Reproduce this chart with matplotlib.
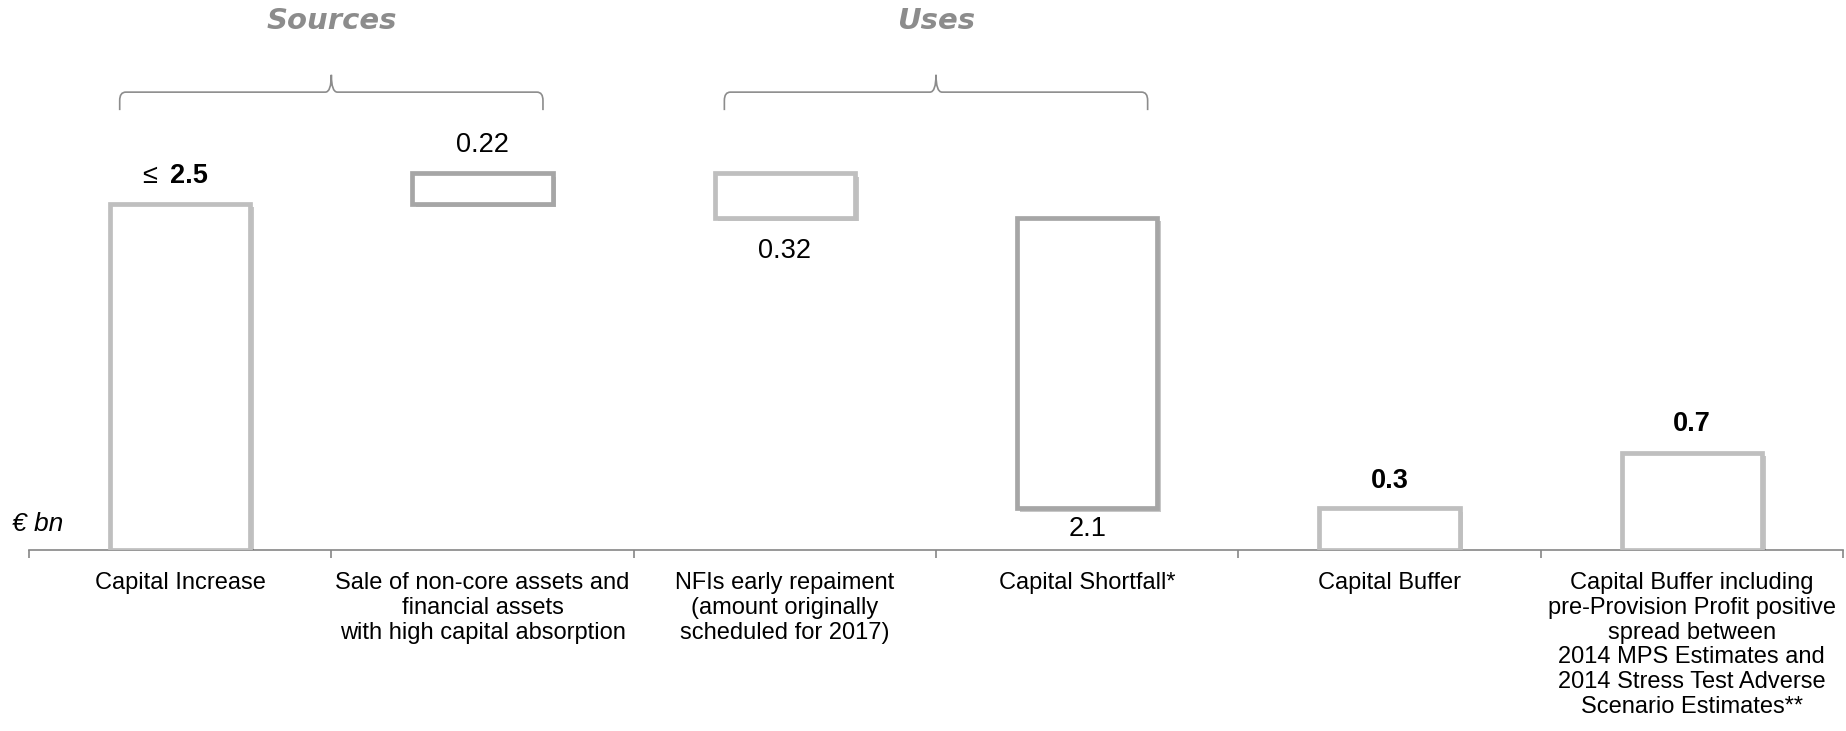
import numpy as np
import matplotlib
matplotlib.use("Agg")
import matplotlib.pyplot as plt
import matplotlib.patheffects as pe
from matplotlib.path import Path
from matplotlib.patches import PathPatch

# ---------------------------------------------------------------- data --- #
categories = [
    "Capital Increase",
    "Sale of non-core assets and\nfinancial assets\nwith high capital absorption",
    "NFIs early repaiment\n(amount originally\nscheduled for 2017)",
    "Capital Shortfall*",
    "Capital Buffer",
    "Capital Buffer including\npre-Provision Profit positive\nspread between\n"
    "2014 MPS Estimates and\n2014 Stress Test Adverse\nScenario Estimates**",
]
values = [2.5, 0.22, -0.32, -2.1, 0.3, 0.7]
kinds = ["step", "step", "step", "step", "total", "total"]
value_labels = ["2.5", "0.22", "0.32", "2.1", "0.3", "0.7"]
bold_labels = [True, False, False, False, True, True]
groups = ["Sources", "Uses"]
group_spans = [(0, 1), (2, 3)]

# --------------------------------------------------------------- style --- #
LIGHT = "#bfbfbf"
DARK = "#a6a6a6"
edge_colors = [LIGHT, DARK, LIGHT, DARK, LIGHT, LIGHT]
label_dy = [20, 20, -24, -15, 20, 21]   # points, from top/bottom of the box
FONT = ["Liberation Sans", "DejaVu Sans"]

plt.rcParams["font.family"] = FONT

fig = plt.figure(figsize=(18.46, 7.31), dpi=100)
ax = fig.add_axes([29 / 1846, 181 / 731, 1814 / 1846, 550 / 731])
ax.set_xlim(-0.5, len(categories) - 0.5)
ax.set_ylim(0, 3.97)

# waterfall bottoms / heights
bottoms = []
heights = []
running = 0.0
for v, k in zip(values, kinds):
    if k == "total":
        bottoms.append(0.0)
        heights.append(v)
    else:
        bottoms.append(min(running, running + v))
        heights.append(abs(v))
        running += v

x = np.arange(len(categories))
bars = ax.bar(x, heights, bottom=bottoms, width=0.465, color="white",
              edgecolor=edge_colors, linewidth=3.4, zorder=3)
for b in bars:
    b.set_path_effects([pe.SimplePatchShadow(offset=(2.5, -2.5), shadow_rgbFace="#000000", alpha=0.22),
                        pe.Normal()])

# value labels
for i, b in enumerate(bars):
    up = values[i] > 0 or kinds[i] == "total"
    y = bottoms[i] + heights[i] if up else bottoms[i]
    weight = "bold" if bold_labels[i] else "normal"
    if i == 0:
        ax.annotate(value_labels[i], (x[i], y), xytext=(-7, label_dy[i]), textcoords="offset points",
                    ha="left", va="center", fontsize=19.5, fontweight=weight)
        ax.annotate("\u2264", (x[i], y), xytext=(-17, label_dy[i]), textcoords="offset points",
                    ha="right", va="center", fontsize=19.5)
    else:
        ax.annotate(value_labels[i], (x[i], y), xytext=(0, label_dy[i]), textcoords="offset points",
                    ha="center", va="center", fontsize=19.5, fontweight=weight)

# braces + group headings
def brace(x0, x1, yb, yh, yt, rx=0.02, ry=0.06):
    xm = (x0 + x1) / 2
    verts = [(x0, yb), (x0, yh - ry), (x0, yh), (x0 + rx, yh),
             (xm - rx, yh), (xm, yh), (xm, yt),
             (xm, yh), (xm + rx, yh),
             (x1 - rx, yh), (x1, yh), (x1, yh - ry), (x1, yb)]
    codes = [Path.MOVETO, Path.LINETO, Path.CURVE3, Path.CURVE3,
             Path.LINETO, Path.CURVE3, Path.CURVE3,
             Path.CURVE3, Path.CURVE3,
             Path.LINETO, Path.CURVE3, Path.CURVE3, Path.LINETO]
    return PathPatch(Path(verts, codes), fill=False, edgecolor="#8c8c8c", lw=1.2, clip_on=False)

for name, (a, b) in zip(groups, group_spans):
    mid = (a + b) / 2
    ax.add_patch(brace(mid - 0.7, mid + 0.7, 3.175, 3.305, 3.43))
    ax.text(mid, 3.82, name, ha="center", va="center", fontsize=21, fontweight="bold",
            fontstyle="italic", color="#8c8c8c", family=["DejaVu Sans"], clip_on=False)

# axis: baseline with boundary ticks, labels centred under each box
for s in ["top", "left", "right"]:
    ax.spines[s].set_visible(False)
ax.spines["bottom"].set_color("#868686")
ax.spines["bottom"].set_linewidth(1.2)
ax.set_yticks([])
ax.set_xticks(x)
ax.set_xticklabels(categories, fontsize=17, linespacing=1.16, va="top")
ax.tick_params(axis="x", which="major", length=0, pad=16)
ax.set_xticks(np.arange(-0.5, len(categories)), minor=True)
ax.tick_params(axis="x", which="minor", length=6, width=1.2, color="#868686", direction="out")

fig.text(12 / 1846, 1 - 524 / 731, "\u20ac bn", fontsize=19, fontstyle="italic", ha="left", va="center")

fig.savefig("out.png", dpi=100)
